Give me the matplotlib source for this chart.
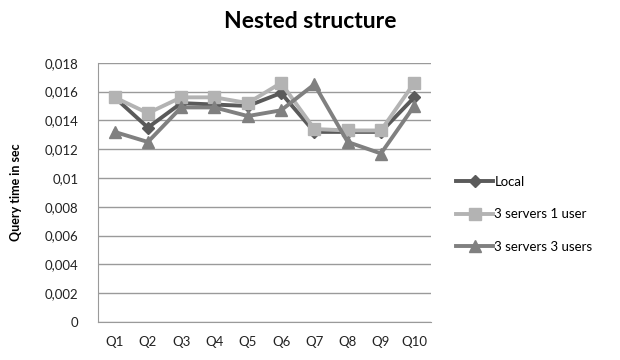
import matplotlib
matplotlib.use("Agg")
import matplotlib.pyplot as plt
from matplotlib.ticker import FixedLocator

plt.rcParams['font.family'] = ['Lato', 'DejaVu Sans']

queries = ["Q1", "Q2", "Q3", "Q4", "Q5", "Q6", "Q7", "Q8", "Q9", "Q10"]
local = [0.0156, 0.0135, 0.0152, 0.0151, 0.0150, 0.0159, 0.0132, 0.0132, 0.0132, 0.0156]
servers3_user1 = [0.0156, 0.0145, 0.0156, 0.0156, 0.0152, 0.0166, 0.0134, 0.0133, 0.0133, 0.0166]
servers3_users3 = [0.0132, 0.0125, 0.0149, 0.0149, 0.0143, 0.0147, 0.0165, 0.0125, 0.0117, 0.0150]
y_ticks = [0, 0.002, 0.004, 0.006, 0.008, 0.01, 0.012, 0.014, 0.016, 0.018]
y_tick_labels = ["0", "0,002", "0,004", "0,006", "0,008", "0,01", "0,012", "0,014", "0,016", "0,018"]

fig = plt.figure(figsize=(6.2, 3.6), dpi=100)
ax = fig.add_axes([0.158, 0.1056, 0.537, 0.72])

x = list(range(len(queries)))
ax.plot(x, local, color="#5a5a5a", lw=2.8, marker="D", ms=6, label="Local", zorder=2)
ax.plot(x, servers3_user1, color="#b3b3b3", lw=2.8, marker="s", ms=8.5, label="3 servers 1 user", zorder=3)
ax.plot(x, servers3_users3, color="#808080", lw=2.8, marker="^", ms=8.5, label="3 servers 3 users", zorder=4)

ax.set_xlim(-0.5, len(queries) - 0.5)
ax.set_ylim(0, 0.018)
ax.yaxis.set_major_locator(FixedLocator(y_ticks))
ax.set_yticklabels(y_tick_labels, fontsize=9.5)
ax.set_xticks(x)
ax.set_xticklabels(queries, fontsize=9.5)
ax.tick_params(axis="x", length=0, pad=10, colors="#222222")
ax.tick_params(axis="y", length=0, pad=14, colors="#222222")
ax.grid(axis="y", color="#9a9a9a", lw=1)
ax.set_axisbelow(True)
for s in ["top", "right"]:
    ax.spines[s].set_visible(False)
ax.spines["left"].set_color("#9a9a9a")
ax.spines["bottom"].set_color("#9a9a9a")

ax.set_ylabel("Query time in sec", fontsize=9, fontweight="bold", labelpad=16)
fig.text(0.5, 0.94, "Nested structure", ha="center", va="center",
         fontsize=16.5, fontweight="bold")

ax.legend(loc="center left", bbox_to_anchor=(1.04, 0.415), frameon=False,
          fontsize=9.5, handlelength=2.8, handletextpad=0.1, labelspacing=1.55)

fig.savefig("out.png", dpi=100)
